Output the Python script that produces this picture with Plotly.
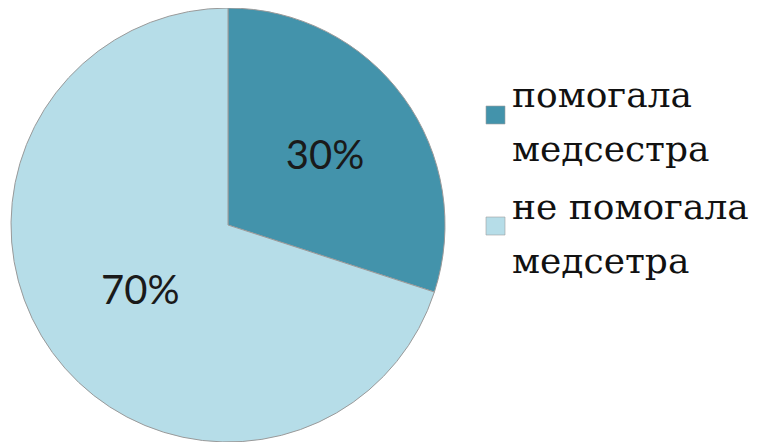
import plotly.graph_objects as go

labels = ["помогала<br>медсестра", "не помогала<br>медсетра"]
values = [30, 70]
colors = ["#4393AB", "#B6DDE8"]

W, H, OFF = 764, 442, 8  # page body offset of 8px


def px(sx):
    return (sx - OFF) / W


def py(sy):
    return 1 - (sy - OFF) / H


fig = go.Figure(go.Pie(
    labels=labels,
    values=values,
    sort=False,
    direction="clockwise",
    rotation=0,
    marker=dict(colors=colors, line=dict(color="#9a9a9a", width=1)),
    textinfo="percent",
    texttemplate="%{percent:.0%}",
    textposition="inside",
    insidetextorientation="horizontal",
    insidetextfont=dict(family="Lato", size=40, color="#1a1a1a"),
    domain=dict(x=[3 / W, 437 / W], y=[8 / H, 1]),
    hoverinfo="skip",
    showlegend=False,
))

# legend drawn manually (serif font with Cyrillic coverage)
square_tops = [106, 217]
line_centers = [[95, 148.5], [207, 260]]
for i, lab in enumerate(labels):
    fig.add_shape(
        type="rect", xref="paper", yref="paper",
        x0=px(486), x1=px(505), y0=py(square_tops[i] + 18), y1=py(square_tops[i]),
        fillcolor=colors[i], line=dict(color="#a0a0a0", width=0.6),
    )
    for j, part in enumerate(lab.split("<br>")):
        fig.add_annotation(
            text=part, xref="paper", yref="paper",
            x=px(510), y=py(line_centers[i][j]),
            xanchor="left", yanchor="middle", showarrow=False,
            font=dict(family="DejaVu Serif", size=36, color="#111111"),
        )

fig.update_layout(
    width=W, height=H,
    margin=dict(l=0, r=0, t=0, b=0),
    paper_bgcolor="white",
    plot_bgcolor="white",
)

fig.write_html("out.html")
